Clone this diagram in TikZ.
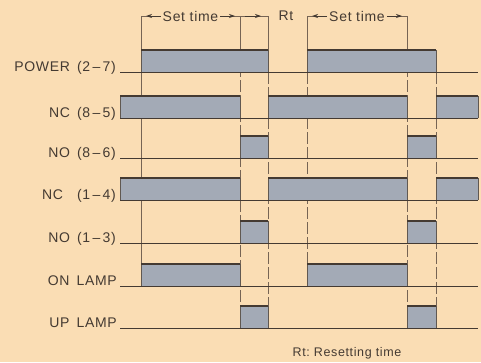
\documentclass[tikz,border=0pt]{standalone}
\usepackage{fontspec}
\setmainfont[LetterSpace=5]{Liberation Sans}
\usetikzlibrary{arrows.meta}
\definecolor{paper}{RGB}{250,221,180}
\definecolor{pulsefill}{RGB}{163,170,182}
\definecolor{ink}{RGB}{68,58,50}
\definecolor{guidecol}{RGB}{118,100,84}
\newcommand{\hipulse}[3]{%
    \filldraw[pulse] (#1,#3) -- (#1,#3-22) -- (#2,#3-22) -- (#2,#3);
    \draw[top edge] (#1,#3-22) -- (#2,#3-22);}

\begin{document}
\begin{tikzpicture}[x=1pt,y=-1pt,font=\fontsize{14}{16}\selectfont,text=ink]
    \tikzstyle{base line}=[draw=ink,line width=0.9pt]
    \tikzstyle{pulse}=[fill=pulsefill,draw=ink!85,line width=0.9pt]
    \tikzstyle{top edge}=[draw=ink,line width=1.8pt]
    \tikzstyle{guide}=[draw=guidecol,line width=0.8pt]
    \tikzstyle{guide dashed}=[guide,dash pattern=on 12pt off 3pt]
    \tikzstyle{signal}=[anchor=base east,inner sep=0pt]
    \tikzstyle{dim arrow}=[draw=ink,line width=0.8pt,-{Stealth[length=6pt,width=4pt]}]
    \tikzstyle{dim text}=[fill=paper,inner sep=2pt]

    \fill[paper] (0,0) rectangle (481,362);
    \useasboundingbox (0,0) rectangle (481,362);

    % corners of the time marks
    \coordinate (top1) at (141,16);
    \coordinate (top2) at (240,16);
    \coordinate (top3) at (268,16);
    \coordinate (top4) at (307,16);
    \coordinate (top5) at (407,16);

    % guides
    \draw[guide] (top1) -- (141,286);
    \draw[guide] (top2) -- (240,50);
    \draw[guide dashed] (240,50) -- (240,328);
    \draw[guide] (top3) -- (268,50);
    \draw[guide dashed] (268,72) -- (268,328);
    \draw[guide] (top4) -- (307,50);
    \draw[guide dashed] (307,72) -- (307,286);
    \draw[guide] (top5) -- (407,50);
    \draw[guide dashed] (407,50) -- (407,328);
    \draw[guide dashed] (436,72) -- (436,328);

    % times on top
    \draw[guide] (top1) -- (top3);
    \draw[guide] (top4) -- (top5);
    \node[dim text] (set1) at (190.5,16) {Set time};
    \draw[dim arrow] (set1.west) -- ([xshift=5pt]top1);
    \draw[dim arrow] (set1.east) -- ([xshift=-5pt]top2);
    \draw[dim arrow] ([xshift=5pt]top2) -- ([xshift=-7pt]top3);
    \node (rt) at (286,16) {Rt};
    \node[dim text] (set2) at (357,16) {Set time};
    \draw[dim arrow] (set2.west) -- ([xshift=5pt]top4);
    \draw[dim arrow] (set2.east) -- ([xshift=-5pt]top5);

    % pulses
    \hipulse{141}{268}{72}
    \hipulse{307}{436}{72}
    \hipulse{120}{240}{118}
    \hipulse{268}{407}{118}
    \hipulse{436}{478}{118}
    \hipulse{240}{268}{158}
    \hipulse{407}{436}{158}
    \hipulse{120}{240}{200}
    \hipulse{268}{407}{200}
    \hipulse{436}{478}{200}
    \hipulse{240}{268}{243}
    \hipulse{407}{436}{243}
    \hipulse{141}{240}{286}
    \hipulse{307}{407}{286}
    \hipulse{240}{268}{328}
    \hipulse{407}{436}{328}

    % base lines
    \draw[base line] (120,72) -- (478,72);
    \draw[base line] (120,118) -- (478,118);
    \draw[base line] (120,158) -- (478,158);
    \draw[base line] (120,200) -- (478,200);
    \draw[base line] (120,243) -- (478,243);
    \draw[base line] (120,286) -- (478,286);
    \draw[base line] (120,328) -- (478,328);

    % signal names
    \node[signal] (power) at (116,71) {POWER\enspace(2\,--\,7)};
    \node[signal] (nc85) at (116,117) {NC\enspace(8\,--\,5)};
    \node[signal] (no86) at (116,157) {NO\enspace(8\,--\,6)};
    \node[signal] (nc14) at (116,199) {NC\quad(1\,--\,4)};
    \node[signal] (no13) at (116,242) {NO\enspace(1\,--\,3)};
    \node[signal] (onlamp) at (117,285) {ON\enspace LAMP};
    \node[signal] (uplamp) at (117,327) {UP\enspace LAMP};

    \node[font=\fontsize{12.5}{14}\selectfont] (note) at (347,353) {Rt:\ Resetting time};
\end{tikzpicture}
\end{document}
